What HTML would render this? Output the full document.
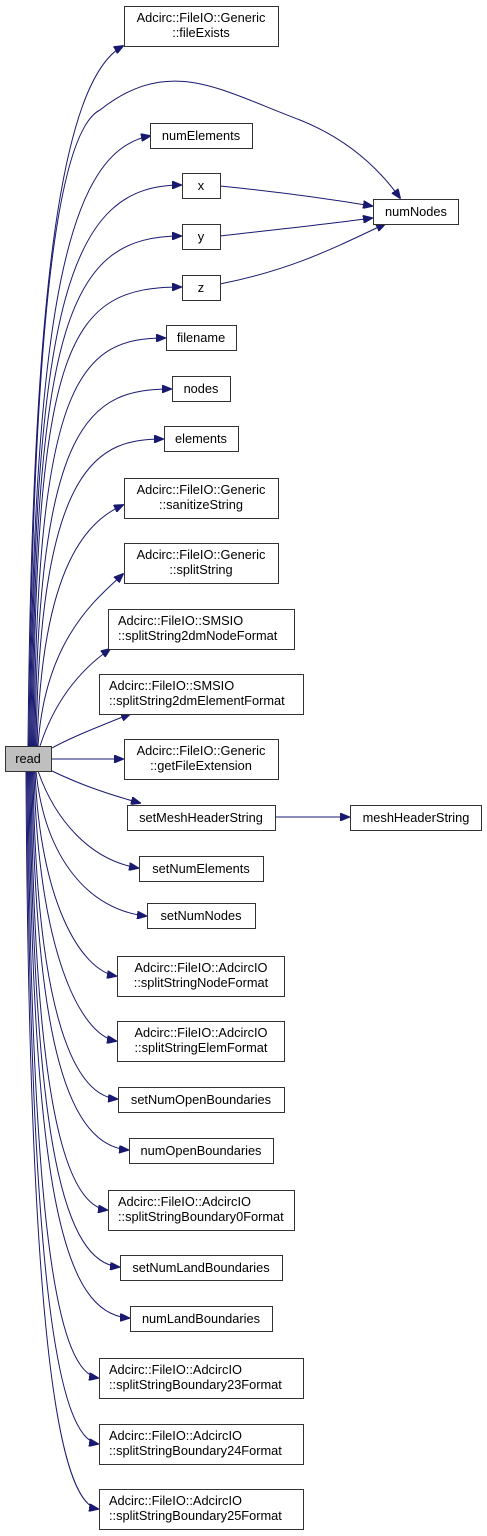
<!DOCTYPE html>
<html><head><style>
body{margin:0;background:#fff;width:487px;height:1536px;overflow:hidden}
svg{position:absolute;left:0;top:0}
text{font-family:"Liberation Sans",sans-serif;font-size:12.8px;fill:#000;text-anchor:middle}
rect{fill:#fff;stroke:#333;stroke-width:1}
path{fill:none;stroke:#191970;stroke-width:1}
</style></head><body>
<svg width="487" height="1536" viewBox="0 0 487 1536">
<defs><marker id="a" markerWidth="10" markerHeight="8" refX="9" refY="4" orient="auto" markerUnits="userSpaceOnUse"><path d="M0,0 L10,4 L0,8 Z" style="fill:#191970;stroke:#191970"/></marker></defs>
<g marker-end="url(#a)">
<path d="M28,746 C32,300 60,80 123,46"/>
<path d="M29,746 C33,300 60,130 100,110 C170,55 220,90 300,120 C350,140 380,170 400,198"/>
<path d="M30,746 C33,300 70,150 150,136"/>
<path d="M31,746 C34,300 70,185 181,185"/>
<path d="M32,746 C35,320 70,236 181,236"/>
<path d="M33,746 C36,340 70,287 181,287"/>
<path d="M34,746 C37,380 80,338 165,338"/>
<path d="M35,746 C38,420 90,389 171,389"/>
<path d="M36,746 C40,460 100,439 163,439"/>
<path d="M37,746 C42,560 90,520 123,505"/>
<path d="M38,746 C45,640 95,600 123,574"/>
<path d="M40,746 C55,700 80,670 110,649"/>
<path d="M52,748 C70,738 95,728 130,714"/>
<path d="M52,759 L123,759"/>
<path d="M52,771 C75,782 100,792 140,803"/>
<path d="M275,817 L349,817"/>
<path d="M38,771 C55,820 90,860 138,868"/>
<path d="M36,771 C45,860 90,910 146,916"/>
<path d="M35,771 C40,900 80,970 116,976"/>
<path d="M34,771 C38,950 80,1035 116,1041"/>
<path d="M33,771 C36,1000 70,1095 117,1099"/>
<path d="M32,771 C35,1050 70,1145 128,1150"/>
<path d="M31,771 C34,1100 65,1205 107,1210"/>
<path d="M30,771 C33,1150 65,1262 119,1267"/>
<path d="M29,771 C32,1200 65,1314 129,1318"/>
<path d="M28,771 C31,1250 60,1372 98,1378"/>
<path d="M27,771 C30,1300 60,1438 98,1444"/>
<path d="M26,771 C29,1350 60,1503 98,1509"/>
<path d="M220,186 C280,192 330,199 372,206"/>
<path d="M220,236 C280,229 330,224 372,218"/>
<path d="M220,284 C290,270 330,250 385,224"/>
</g>
<rect x="5.5" y="746.5" width="46" height="25" style="fill:#bfbfbf"/><text x="28" y="763">read</text>
<rect x="124.5" y="6.5" width="154" height="40"/><text x="201" y="22">Adcirc::FileIO::Generic</text><text x="201" y="37">::fileExists</text>
<rect x="373.5" y="199.5" width="85" height="25"/><text x="416" y="216">numNodes</text>
<rect x="150.5" y="123.5" width="102" height="25"/><text x="201" y="140">numElements</text>
<rect x="182.5" y="173.5" width="38" height="25"/><text x="201" y="190">x</text>
<rect x="182.5" y="224.5" width="38" height="25"/><text x="201" y="241">y</text>
<rect x="182.5" y="275.5" width="38" height="25"/><text x="201" y="292">z</text>
<rect x="166.5" y="325.5" width="70" height="25"/><text x="201" y="342">filename</text>
<rect x="172.5" y="376.5" width="58" height="25"/><text x="201" y="393">nodes</text>
<rect x="164.5" y="426.5" width="74" height="25"/><text x="201" y="443">elements</text>
<rect x="124.5" y="478.5" width="154" height="40"/><text x="201" y="494">Adcirc::FileIO::Generic</text><text x="201" y="509">::sanitizeString</text>
<rect x="124.5" y="543.5" width="154" height="40"/><text x="201" y="559">Adcirc::FileIO::Generic</text><text x="201" y="574">::splitString</text>
<rect x="108.5" y="609.5" width="186" height="40"/><text x="118" y="625" style="text-anchor:start">Adcirc::FileIO::SMSIO</text><text x="118" y="640" style="text-anchor:start">::splitString2dmNodeFormat</text>
<rect x="99.5" y="674.5" width="204" height="40"/><text x="109" y="690" style="text-anchor:start">Adcirc::FileIO::SMSIO</text><text x="109" y="705" style="text-anchor:start">::splitString2dmElementFormat</text>
<rect x="124.5" y="739.5" width="154" height="40"/><text x="201" y="755">Adcirc::FileIO::Generic</text><text x="201" y="770">::getFileExtension</text>
<rect x="127.5" y="805.5" width="148" height="25"/><text x="201" y="822">setMeshHeaderString</text>
<rect x="350.5" y="805.5" width="131" height="25"/><text x="416" y="822">meshHeaderString</text>
<rect x="139.5" y="856.5" width="124" height="25"/><text x="201" y="873">setNumElements</text>
<rect x="147.5" y="903.5" width="108" height="25"/><text x="201" y="920">setNumNodes</text>
<rect x="117.5" y="956.5" width="167" height="40"/><text x="201" y="972">Adcirc::FileIO::AdcircIO</text><text x="201" y="987">::splitStringNodeFormat</text>
<rect x="117.5" y="1021.5" width="167" height="40"/><text x="201" y="1037">Adcirc::FileIO::AdcircIO</text><text x="201" y="1052">::splitStringElemFormat</text>
<rect x="118.5" y="1087.5" width="166" height="25"/><text x="201" y="1104">setNumOpenBoundaries</text>
<rect x="129.5" y="1138.5" width="144" height="25"/><text x="201" y="1155">numOpenBoundaries</text>
<rect x="108.5" y="1190.5" width="186" height="40"/><text x="118" y="1206" style="text-anchor:start">Adcirc::FileIO::AdcircIO</text><text x="118" y="1221" style="text-anchor:start">::splitStringBoundary0Format</text>
<rect x="120.5" y="1255.5" width="162" height="25"/><text x="201" y="1272">setNumLandBoundaries</text>
<rect x="130.5" y="1306.5" width="142" height="25"/><text x="201" y="1323">numLandBoundaries</text>
<rect x="99.5" y="1358.5" width="204" height="40"/><text x="109" y="1374" style="text-anchor:start">Adcirc::FileIO::AdcircIO</text><text x="109" y="1389" style="text-anchor:start">::splitStringBoundary23Format</text>
<rect x="99.5" y="1424.5" width="204" height="40"/><text x="109" y="1440" style="text-anchor:start">Adcirc::FileIO::AdcircIO</text><text x="109" y="1455" style="text-anchor:start">::splitStringBoundary24Format</text>
<rect x="99.5" y="1489.5" width="204" height="40"/><text x="109" y="1505" style="text-anchor:start">Adcirc::FileIO::AdcircIO</text><text x="109" y="1520" style="text-anchor:start">::splitStringBoundary25Format</text>
</svg>
</body></html>
